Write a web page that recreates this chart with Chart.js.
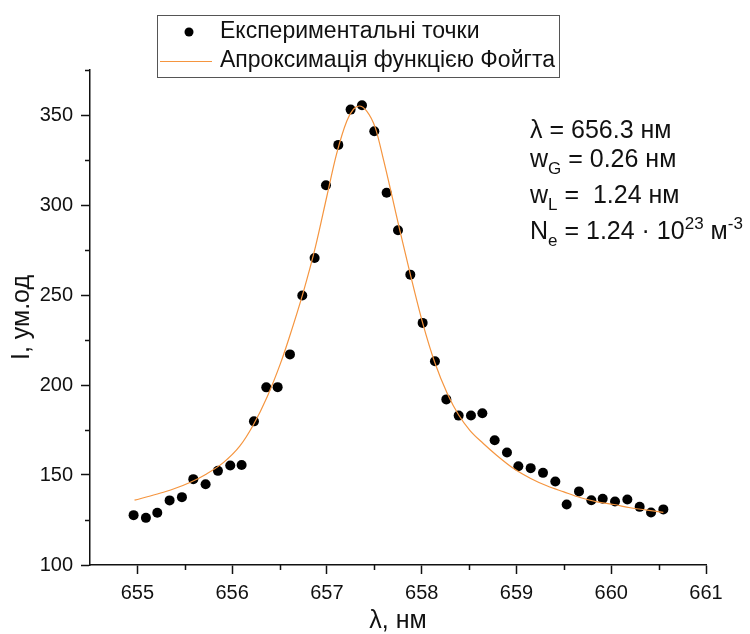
<!DOCTYPE html>
<html>
<head>
<meta charset="utf-8">
<title>Спектральна лінія H-alpha</title>
<script src="https://cdn.jsdelivr.net/npm/chart.js@4/dist/chart.umd.min.js"></script>
<style>
  html, body { margin: 0; padding: 0; background: #ffffff; }
  #wrap { width: 750px; height: 634px; }
</style>
</head>
<body>
<div id="wrap"><canvas id="chart" width="750" height="634"></canvas></div>
<script>
// Measured spectrum: wavelength (nm) and intensity (arb. units)
const wavelengthNm = [
  654.96, 655.09, 655.21, 655.34, 655.47, 655.59, 655.72, 655.85, 655.98, 656.10,
  656.23, 656.36, 656.48, 656.61, 656.74, 656.87, 656.99, 657.12, 657.25, 657.37,
  657.50, 657.63, 657.75, 657.88, 658.01, 658.14, 658.26, 658.39, 658.52, 658.64,
  658.77, 658.90, 659.02, 659.15, 659.28, 659.41, 659.53, 659.66, 659.79, 659.91,
  660.04, 660.17, 660.30, 660.42, 660.55
];
const intensity = [
  127.7, 126.2, 129.0, 135.9, 137.7, 147.7, 144.9, 152.3, 155.3, 155.6,
  179.8, 198.7, 198.8, 217.0, 249.7, 270.6, 311.0, 333.4, 353.0, 355.4,
  341.0, 306.8, 286.0, 261.3, 234.5, 213.2, 192.0, 183.0, 183.1, 184.3,
  169.3, 162.5, 154.9, 153.8, 151.2, 146.4, 133.6, 140.9, 136.0, 136.8,
  135.3, 136.4, 132.3, 129.2, 130.9
];

// Voigt-profile fit curve, sampled along the line
const fitWavelengthNm = [
  654.97, 655.20, 655.38, 655.56, 655.73, 655.91, 656.08, 656.22, 656.37, 656.51,
  656.60, 656.75, 656.88, 657.00, 657.10, 657.21, 657.28, 657.34, 657.42, 657.51,
  657.60, 657.69, 657.77, 657.88, 658.01, 658.14, 658.27, 658.39, 658.51, 658.65,
  658.79, 658.97, 659.15, 659.32, 659.50, 659.67, 659.85, 660.03, 660.20, 660.38,
  660.55
];
const fitIntensity = [
  136.0, 139.3, 142.2, 146.0, 150.6, 157.0, 166.0, 177.5, 193.5, 212.0,
  226.0, 251.5, 277.0, 305.0, 328.0, 346.7, 353.2, 355.0, 352.2, 343.0,
  324.5, 304.2, 285.7, 261.5, 234.5, 212.2, 195.3, 183.3, 174.7, 167.5,
  161.0, 153.6, 148.1, 144.0, 140.6, 137.5, 135.1, 133.6, 131.8, 130.5,
  129.2
];

// Axis ticks
const xMajorTicks = [655, 656, 657, 658, 659, 660, 661];
const xMinorTicks = [655.5, 656.5, 657.5, 658.5, 659.5, 660.5];
const yMajorTicks = [100, 150, 200, 250, 300, 350];
const yMinorTicks = [125, 175, 225, 275, 325, 375];

const seriesLabels = ['Експериментальні точки', 'Апроксимація функцією Фойгта'];
const xTitle = 'λ, нм';
const yTitle = 'I, ум.од';

const FONT = "'Liberation Sans', Arial, sans-serif";
const FIT_COLOR = '#F5953F';
const INK = '#111111';

const pointsData = wavelengthNm.map((x, i) => ({ x, y: intensity[i] }));
const fitData = fitWavelengthNm.map((x, i) => ({ x, y: fitIntensity[i] }));

// Short minor tick marks on both axes
const minorTicksPlugin = {
  id: 'minorTicks',
  afterDraw(chart) {
    const { ctx, scales } = chart;
    const xs = scales.x, ys = scales.y;
    ctx.save();
    ctx.strokeStyle = INK;
    ctx.lineWidth = 1.5;
    ctx.beginPath();
    xMinorTicks.forEach(v => {
      const px = Math.round(xs.getPixelForValue(v)) + 0.5;
      ctx.moveTo(px, ys.bottom);
      ctx.lineTo(px, ys.bottom + 5);
    });
    yMinorTicks.forEach(v => {
      const py = Math.round(ys.getPixelForValue(v)) + 0.5;
      ctx.moveTo(xs.left, py);
      ctx.lineTo(xs.left - 5, py);
    });
    ctx.stroke();
    ctx.restore();
  }
};

// Boxed legend above the plot
const boxLegendPlugin = {
  id: 'boxLegend',
  afterDraw(chart) {
    const ctx = chart.ctx;
    ctx.save();
    ctx.fillStyle = '#ffffff';
    ctx.fillRect(157, 15, 402, 62);
    ctx.strokeStyle = '#555555';
    ctx.lineWidth = 1;
    ctx.strokeRect(157.5, 15.5, 402, 62);

    ctx.fillStyle = '#000000';
    ctx.beginPath();
    ctx.arc(189, 32, 4.5, 0, Math.PI * 2);
    ctx.fill();

    ctx.strokeStyle = FIT_COLOR;
    ctx.lineWidth = 1.2;
    ctx.beginPath();
    ctx.moveTo(160, 61.5);
    ctx.lineTo(212, 61.5);
    ctx.stroke();

    ctx.fillStyle = INK;
    ctx.font = '23px ' + FONT;
    ctx.textBaseline = 'middle';
    ctx.textAlign = 'left';
    ctx.fillText(seriesLabels[0], 220, 32);
    ctx.fillText(seriesLabels[1], 220, 61);
    ctx.restore();
  }
};

// Fit parameters, with sub- and superscripts
const paramLines = [
  [{ t: 'λ = 656.3 нм' }],
  [{ t: 'w' }, { t: 'G', sub: true }, { t: ' = 0.26 нм' }],
  [{ t: 'w' }, { t: 'L', sub: true }, { t: ' =  1.24 нм' }],
  [{ t: 'N' }, { t: 'e', sub: true }, { t: ' = 1.24 · 10' }, { t: '23', sup: true }, { t: ' м' }, { t: '-3', sup: true }]
];
const paramBaselines = [138, 167, 203, 239];

const paramsPlugin = {
  id: 'fitParams',
  afterDraw(chart) {
    const ctx = chart.ctx;
    ctx.save();
    ctx.fillStyle = INK;
    ctx.textBaseline = 'alphabetic';
    ctx.textAlign = 'left';
    paramLines.forEach((runs, li) => {
      let x = 530;
      const base = paramBaselines[li];
      runs.forEach(r => {
        const small = r.sub || r.sup;
        ctx.font = (small ? '17px ' : '25px ') + FONT;
        const dy = r.sub ? 7 : (r.sup ? -10 : 0);
        ctx.fillText(r.t, x, base + dy);
        x += ctx.measureText(r.t).width;
      });
    });
    ctx.restore();
  }
};

const axisGrid = {
  display: true,
  drawOnChartArea: false,
  drawTicks: true,
  tickLength: 9,
  tickWidth: 1.5,
  tickColor: INK,
  color: INK
};
const axisBorder = { display: true, color: INK, width: 1.5 };

new Chart(document.getElementById('chart'), {
  type: 'scatter',
  data: {
    datasets: [
      {
        label: seriesLabels[1],
        data: fitData,
        showLine: true,
        borderColor: FIT_COLOR,
        borderWidth: 1.2,
        pointRadius: 0,
        cubicInterpolationMode: 'monotone',
        fill: false,
        order: 0
      },
      {
        label: seriesLabels[0],
        data: pointsData,
        showLine: false,
        pointRadius: 5,
        pointBackgroundColor: '#000000',
        pointBorderColor: '#000000',
        pointBorderWidth: 0,
        order: 1
      }
    ]
  },
  options: {
    responsive: false,
    animation: false,
    devicePixelRatio: 1,
    layout: { padding: { top: 70, right: 44, left: 0, bottom: 0 } },
    plugins: {
      legend: { display: false },
      tooltip: { enabled: false },
      title: { display: false }
    },
    scales: {
      x: {
        type: 'linear',
        position: 'bottom',
        min: 654.5,
        max: 661,
        afterBuildTicks: s => { s.ticks = xMajorTicks.map(v => ({ value: v })); },
        afterFit: s => { s.height = 69; },
        grid: axisGrid,
        border: axisBorder,
        ticks: {
          autoSkip: false,
          maxRotation: 0,
          padding: 7,
          color: INK,
          font: { family: FONT, size: 20 },
          callback: v => String(v)
        },
        title: {
          display: true,
          text: xTitle,
          color: INK,
          font: { family: FONT, size: 25, lineHeight: 1 },
          padding: { top: 0, bottom: 0 }
        }
      },
      y: {
        type: 'linear',
        position: 'left',
        min: 100,
        max: 375,
        afterBuildTicks: s => { s.ticks = yMajorTicks.map(v => ({ value: v })); },
        afterFit: s => { s.width = 90; },
        grid: axisGrid,
        border: axisBorder,
        ticks: {
          autoSkip: false,
          padding: 8,
          color: INK,
          font: { family: FONT, size: 20 },
          callback: v => String(v)
        },
        title: {
          display: true,
          text: yTitle,
          color: INK,
          font: { family: FONT, size: 25, lineHeight: 1 },
          padding: { top: 10, bottom: 0 }
        }
      }
    }
  },
  plugins: [minorTicksPlugin, boxLegendPlugin, paramsPlugin]
});
</script>
</body>
</html>
